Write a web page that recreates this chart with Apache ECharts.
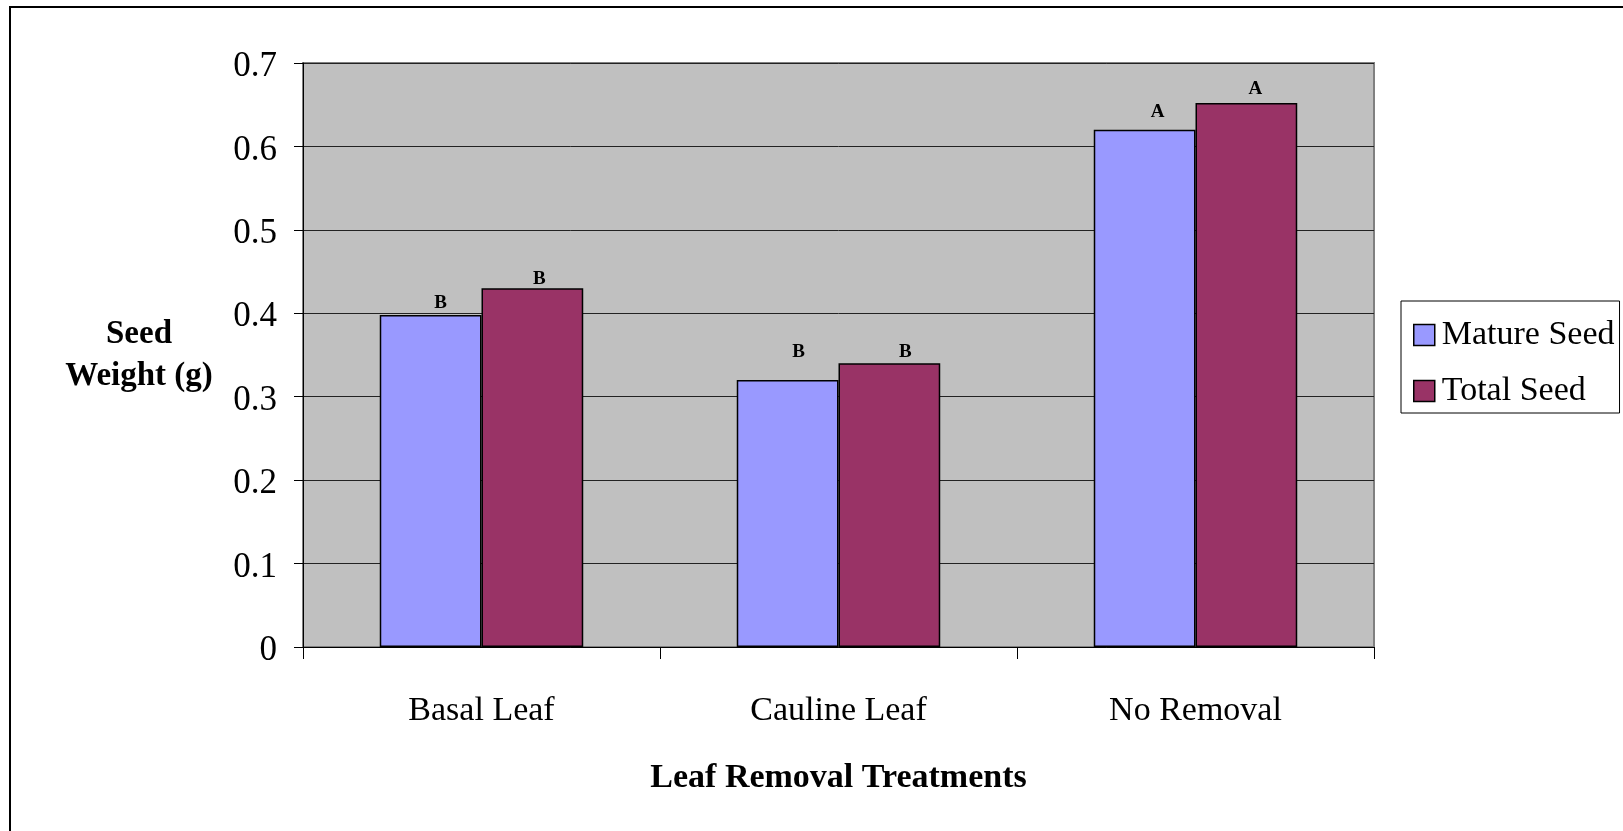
<!DOCTYPE html>
<html>
<head>
<meta charset="utf-8">
<script src="https://cdn.jsdelivr.net/npm/echarts@6/dist/echarts.min.js"></script>
<style>
html, body { margin: 0; padding: 0; background: #fff; }
#chart { width: 1623px; height: 831px; }
</style>
</head>
<body>
<div id="chart"></div>
<script>
// ---- data ----
var categories = ['Basal Leaf', 'Cauline Leaf', 'No Removal'];
var seriesNames = ['Mature Seed', 'Total Seed'];
var matureSeed = [0.398, 0.320, 0.620];
var totalSeed = [0.430, 0.340, 0.652];
var matureLetters = ['B', 'B', 'A'];
var totalLetters = ['B', 'B', 'A'];
var yTickLabels = ['0', '0.1', '0.2', '0.3', '0.4', '0.5', '0.6', '0.7'];
var yAxisTitle = 'Seed\nWeight (g)';
var xAxisTitle = 'Leaf Removal Treatments';

// ---- style (label nudges, not data) ----
var matureLabelOffsets = [[10, -2], [11, -18], [13, -8]];
var totalLabelOffsets = [[7, 1], [16, -1], [9, -4]];
var FONT = '"Liberation Serif", "Times New Roman", serif';

function buildData(values, letters, offsets) {
  return values.map(function (v, i) {
    return {
      value: v,
      label: { formatter: letters[i], offset: offsets[i] }
    };
  });
}

var chart = echarts.init(document.getElementById('chart'), null, { renderer: 'canvas' });
var labelStyle = {
  show: true, position: 'top', distance: 0,
  fontFamily: FONT, fontWeight: 'bold', fontSize: 19, lineHeight: 20, color: '#000'
};
chart.setOption({
  animation: false,
  backgroundColor: '#fff',
  graphic: [{
    type: 'rect', z: -10, silent: true,
    shape: { x: 10, y: 7, width: 1700, height: 900 },
    style: { fill: 'none', stroke: '#000', lineWidth: 2 }
  }],
  grid: {
    left: 303, top: 63, width: 1071, height: 584,
    show: true, backgroundColor: '#C0C0C0', borderColor: '#808080', borderWidth: 2
  },
  legend: {
    orient: 'vertical', left: 1401, top: 301,
    data: seriesNames,
    icon: 'rect',
    itemWidth: 21, itemHeight: 21, itemGap: 22,
    padding: [17, 5, 5, 12],
    borderColor: '#000', borderWidth: 1, backgroundColor: '#fff',
    textStyle: { fontFamily: FONT, fontSize: 34, lineHeight: 34, color: '#000', padding: [0, 0, 0, 2] },
    itemStyle: { borderColor: '#000', borderWidth: 1.5 }
  },
  xAxis: {
    type: 'category', data: categories, boundaryGap: true,
    axisLine: { show: true, lineStyle: { color: '#000', width: 1 } },
    axisTick: { show: true, alignWithLabel: false, length: 12, lineStyle: { color: '#000' } },
    axisLabel: { margin: 47, fontFamily: FONT, fontSize: 34, lineHeight: 34, color: '#000' },
    splitLine: { show: false },
    name: xAxisTitle, nameLocation: 'middle', nameGap: 114,
    nameTextStyle: { fontFamily: FONT, fontSize: 34, fontWeight: 'bold', color: '#000', lineHeight: 34 }
  },
  yAxis: {
    type: 'value', min: 0, max: 0.7, interval: 0.1,
    axisLine: { show: true, lineStyle: { color: '#000', width: 1 } },
    axisTick: { show: true, length: 9, lineStyle: { color: '#000' } },
    axisLabel: {
      margin: 26, fontFamily: FONT, fontSize: 35, color: '#000',
      verticalAlign: 'top', lineHeight: 8,
      formatter: function (v) { return yTickLabels[Math.round(v * 10)]; }
    },
    splitLine: { show: true, lineStyle: { color: '#222', width: 1 } },
    name: yAxisTitle, nameLocation: 'middle', nameGap: 164, nameRotate: 0,
    nameTextStyle: {
      fontFamily: FONT, fontSize: 33, fontWeight: 'bold', color: '#000',
      lineHeight: 42, align: 'center', verticalAlign: 'middle'
    }
  },
  series: [{
    name: seriesNames[0], type: 'bar',
    data: buildData(matureSeed, matureLetters, matureLabelOffsets),
    barGap: '0%', barCategoryGap: '43%',
    itemStyle: { color: '#9999FF', borderColor: '#000', borderWidth: 1.5 },
    label: labelStyle
  }, {
    name: seriesNames[1], type: 'bar',
    data: buildData(totalSeed, totalLetters, totalLabelOffsets),
    barGap: '0%', barCategoryGap: '43%',
    itemStyle: { color: '#993366', borderColor: '#000', borderWidth: 1.5 },
    label: labelStyle
  }]
});
</script>
</body>
</html>
